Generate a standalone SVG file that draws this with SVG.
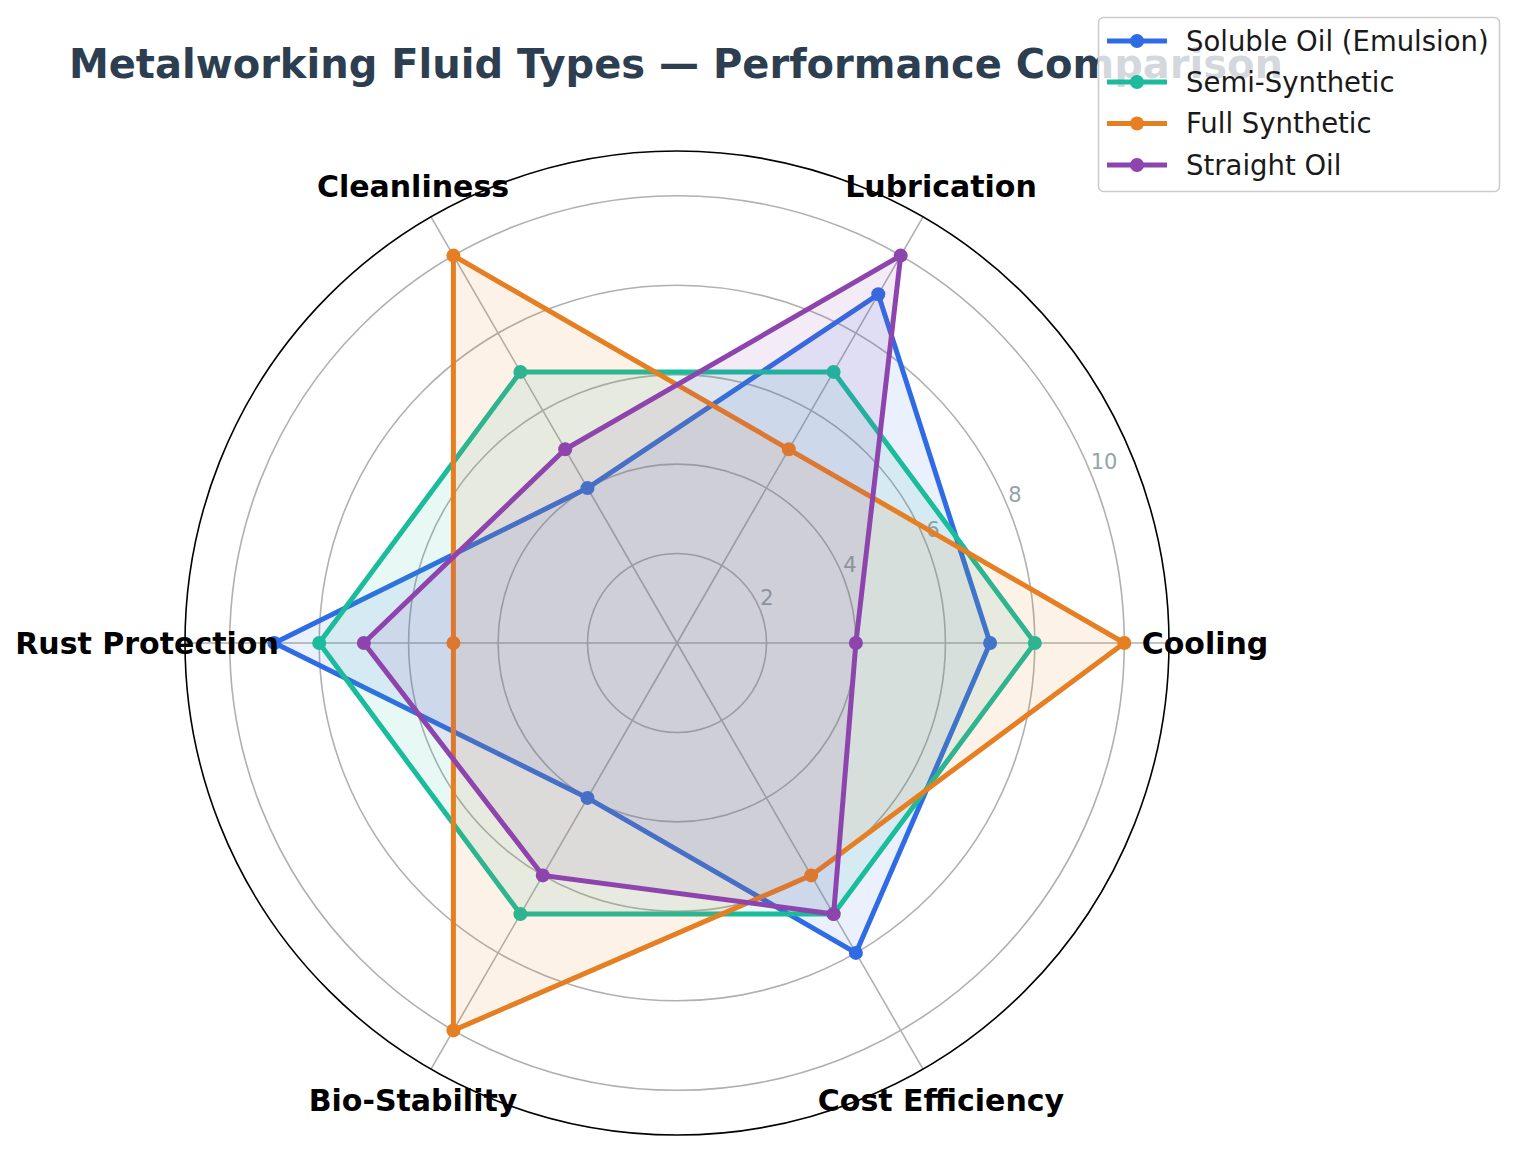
<svg xmlns="http://www.w3.org/2000/svg" width="1518" height="1154" viewBox="0 0 1518 1154">
<style>
.grid{fill:none;stroke:#b0b0b0;stroke-width:1.6}
.spoke{stroke:#b0b0b0;stroke-width:1.6}
.outer{fill:none;stroke:#000;stroke-width:1.6}
.axl{font-family:"DejaVu Sans",sans-serif;font-weight:bold;font-size:30px;fill:#000;text-anchor:middle}
.rl{font-family:"DejaVu Sans",sans-serif;font-size:21px;fill:#95a5a6;text-anchor:middle}
.title{font-family:"DejaVu Sans",sans-serif;font-weight:bold;font-size:40px;fill:#2c3e50;text-anchor:middle}
.lg{font-family:"DejaVu Sans",sans-serif;font-size:27.5px;fill:#1a1a1a}
.ln{fill-opacity:0.1;stroke-width:5;stroke-linejoin:miter}
.s1{stroke:#2f6be4;fill:#2f6be4}
.s2{stroke:#1abc9c;fill:#1abc9c}
.s3{stroke:#e67e22;fill:#e67e22}
.s4{stroke:#8e44ad;fill:#8e44ad}
</style>
<rect width="1518" height="1154" fill="#fff"/>
<text class="title" x="676" y="78">Metalworking Fluid Types — Performance Comparison</text>
<g id="grid">
<circle class="grid" cx="677" cy="643" r="89.5"/>
<circle class="grid" cx="677" cy="643" r="178.9"/>
<circle class="grid" cx="677" cy="643" r="268.4"/>
<circle class="grid" cx="677" cy="643" r="357.8"/>
<circle class="grid" cx="677" cy="643" r="447.3"/>
<line class="spoke" x1="677" y1="643" x2="1169" y2="643"/>
<line class="spoke" x1="677" y1="643" x2="923" y2="216.9"/>
<line class="spoke" x1="677" y1="643" x2="431" y2="216.9"/>
<line class="spoke" x1="677" y1="643" x2="185" y2="643"/>
<line class="spoke" x1="677" y1="643" x2="431" y2="1069.1"/>
<line class="spoke" x1="677" y1="643" x2="923" y2="1069.1"/>
<circle class="outer" cx="677" cy="643" r="492"/>
</g>
<g id="radial-labels">
<text class="rl" x="767" y="605">2</text>
<text class="rl" x="850" y="572">4</text>
<text class="rl" x="933" y="537">6</text>
<text class="rl" x="1015" y="502">8</text>
<text class="rl" x="1104" y="469">10</text>
</g>
<g id="connectors">
<g id="series-soluble">
<polygon class="ln s1" points="990.1,643 878.3,294.3 587.5,488.1 274.4,643 587.5,797.9 855.9,952.9"/>
<g fill="#2f6be4"><circle cx="990.1" cy="643" r="7"/><circle cx="878.3" cy="294.3" r="7"/><circle cx="587.5" cy="488.1" r="7"/><circle cx="274.4" cy="643" r="7"/><circle cx="587.5" cy="797.9" r="7"/><circle cx="855.9" cy="952.9" r="7"/></g>
</g>
<g id="series-semi">
<polygon class="ln s2" points="1034.8,643 833.6,371.9 520.4,371.9 319.2,643 520.4,914.1 833.6,914.1"/>
<g fill="#1abc9c"><circle cx="1034.8" cy="643" r="7"/><circle cx="833.6" cy="371.9" r="7"/><circle cx="520.4" cy="371.9" r="7"/><circle cx="319.2" cy="643" r="7"/><circle cx="520.4" cy="914.1" r="7"/><circle cx="833.6" cy="914.1" r="7"/></g>
</g>
<g id="series-full">
<polygon class="ln s3" points="1124.3,643 788.8,449.3 453.4,255.6 453.4,643 453.4,1030.4 811.2,875.4"/>
<g fill="#e67e22"><circle cx="1124.3" cy="643" r="7"/><circle cx="788.8" cy="449.3" r="7"/><circle cx="453.4" cy="255.6" r="7"/><circle cx="453.4" cy="643" r="7"/><circle cx="453.4" cy="1030.4" r="7"/><circle cx="811.2" cy="875.4" r="7"/></g>
</g>
<g id="series-straight">
<polygon class="ln s4" points="855.9,643 900.7,255.6 565.2,449.3 363.9,643 542.8,875.4 833.6,914.1"/>
<g fill="#8e44ad"><circle cx="855.9" cy="643" r="7"/><circle cx="900.7" cy="255.6" r="7"/><circle cx="565.2" cy="449.3" r="7"/><circle cx="363.9" cy="643" r="7"/><circle cx="542.8" cy="875.4" r="7"/><circle cx="833.6" cy="914.1" r="7"/></g>
</g>
</g>
<g id="axis-labels">
<text id="lbl-cooling" class="axl" x="1205" y="654">Cooling</text>
<text id="lbl-lubrication" class="axl" x="941" y="197">Lubrication</text>
<text id="lbl-cleanliness" class="axl" x="413" y="197">Cleanliness</text>
<text id="lbl-rust" class="axl" x="147" y="654">Rust Protection</text>
<text id="lbl-bio" class="axl" x="413" y="1111">Bio-Stability</text>
<text id="lbl-cost" class="axl" x="941" y="1111">Cost Efficiency</text>
</g>
<g id="legend">
<rect x="1098.5" y="17.5" width="401" height="174" rx="5" fill="#fff" fill-opacity="0.8" stroke="#cccccc" stroke-width="1.6"/>
<line x1="1107" y1="41" x2="1167" y2="41" stroke="#2f6be4" stroke-width="5"/><circle cx="1137" cy="41" r="7" fill="#2f6be4"/>
<text class="lg" x="1186" y="50.5">Soluble Oil (Emulsion)</text>
<line x1="1107" y1="82" x2="1167" y2="82" stroke="#1abc9c" stroke-width="5"/><circle cx="1137" cy="82" r="7" fill="#1abc9c"/>
<text class="lg" x="1186" y="91.5">Semi-Synthetic</text>
<line x1="1107" y1="123.5" x2="1167" y2="123.5" stroke="#e67e22" stroke-width="5"/><circle cx="1137" cy="123.5" r="7" fill="#e67e22"/>
<text class="lg" x="1186" y="133">Full Synthetic</text>
<line x1="1107" y1="165" x2="1167" y2="165" stroke="#8e44ad" stroke-width="5"/><circle cx="1137" cy="165" r="7" fill="#8e44ad"/>
<text class="lg" x="1186" y="174.5">Straight Oil</text>
</g>
</svg>
